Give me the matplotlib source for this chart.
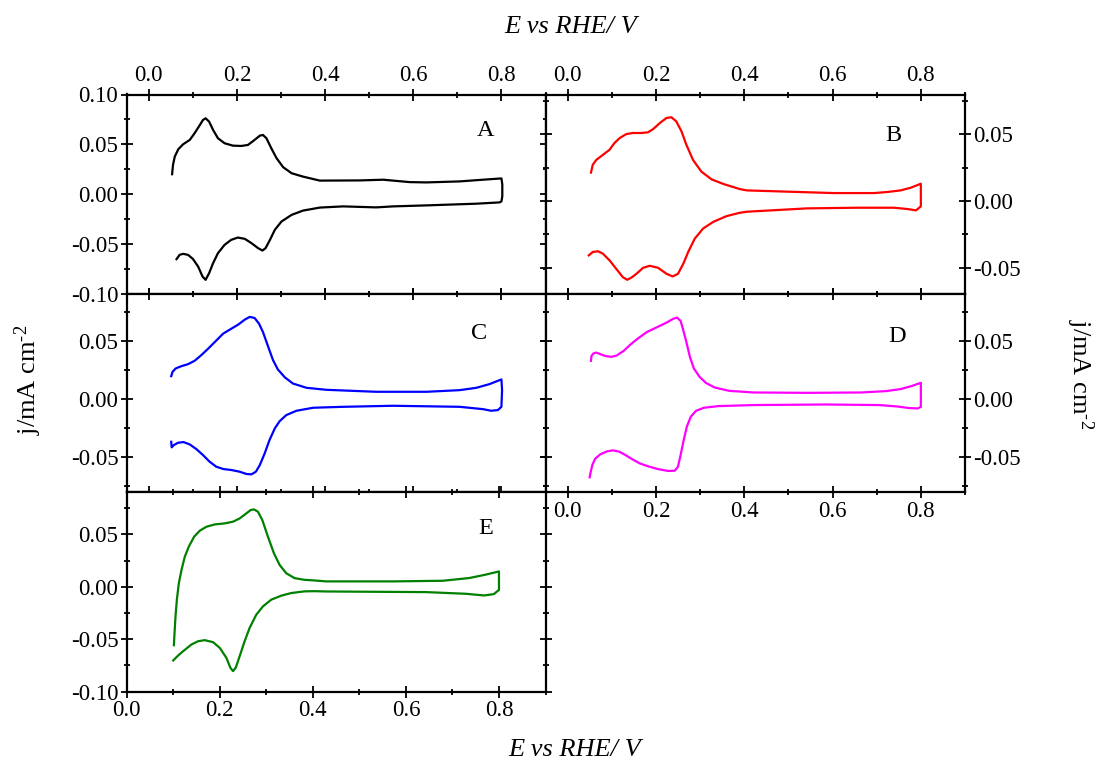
import matplotlib
matplotlib.use("Agg")
import matplotlib.pyplot as plt
from matplotlib.ticker import MultipleLocator, FormatStrFormatter

plt.rcParams['font.family'] = ['Liberation Serif', 'DejaVu Serif']
plt.rcParams['axes.unicode_minus'] = False
plt.rcParams['mathtext.fontset'] = 'custom'
plt.rcParams['mathtext.rm'] = 'Liberation Serif'
plt.rcParams['mathtext.it'] = 'Liberation Serif:italic'
plt.rcParams['mathtext.default'] = 'regular'

# ---------------- data (E vs RHE / V ; j / mA cm-2) ----------------
E_A = [0.053, 0.055, 0.059, 0.067, 0.078, 0.093, 0.104, 0.116, 0.123, 0.129, 0.137, 0.146,
       0.157, 0.172, 0.191, 0.210, 0.225, 0.240, 0.252, 0.259, 0.267, 0.278, 0.290, 0.305,
       0.324, 0.350, 0.388, 0.479, 0.532, 0.592, 0.630, 0.705, 0.758, 0.800, 0.802, 0.802, 0.800,
       0.796, 0.743, 0.630, 0.554, 0.516, 0.441, 0.388, 0.350, 0.324, 0.301, 0.286, 0.275,
       0.265, 0.258, 0.248, 0.233, 0.218, 0.202, 0.187, 0.172, 0.157, 0.146, 0.137, 0.129,
       0.122, 0.112, 0.100, 0.089, 0.078, 0.070, 0.063]
j_A = [0.0202, 0.0295, 0.0378, 0.0452, 0.0502, 0.0545, 0.0612, 0.0695, 0.0745, 0.0762, 0.0728, 0.0645,
       0.0562, 0.0512, 0.0488, 0.0485, 0.0495, 0.0545, 0.0588, 0.0595, 0.0562, 0.0462, 0.0362, 0.0272,
       0.0212, 0.0178, 0.0138, 0.014, 0.0147, 0.0123, 0.012, 0.013, 0.0147, 0.016, 0.010, -0.002, -0.007,
       -0.008, -0.0093, -0.011, -0.012, -0.013, -0.012, -0.0132, -0.0162, -0.0205, -0.0272, -0.0355, -0.0455,
       -0.0538, -0.0562, -0.0538, -0.0488, -0.0445, -0.0432, -0.0455, -0.0505, -0.0588, -0.0688, -0.0788, -0.0855,
       -0.0822, -0.0722, -0.0645, -0.0605, -0.0595, -0.0605, -0.0648]

E_B = [0.053, 0.057, 0.065, 0.080, 0.095, 0.106, 0.118, 0.133, 0.148, 0.167, 0.182, 0.194,
       0.209, 0.224, 0.235, 0.246, 0.258, 0.269, 0.284, 0.303, 0.326, 0.353, 0.390, 0.406,
       0.504, 0.603, 0.694, 0.724, 0.754, 0.777, 0.800, 0.800,
       0.789, 0.770, 0.739, 0.656, 0.542, 0.406, 0.390, 0.360, 0.330, 0.307, 0.288, 0.273,
       0.262, 0.250, 0.238, 0.224, 0.205, 0.186, 0.171, 0.156, 0.144, 0.135, 0.125, 0.110,
       0.095, 0.080, 0.069, 0.057, 0.048]
j_B = [0.0214, 0.0272, 0.0309, 0.0347, 0.0385, 0.0435, 0.0473, 0.0503, 0.0511, 0.0511, 0.0516, 0.0541,
       0.0586, 0.0624, 0.0629, 0.0599, 0.0523, 0.0423, 0.0309, 0.0221, 0.0163, 0.0128, 0.0090, 0.0080,
       0.0070, 0.0060, 0.0060, 0.0068, 0.0080, 0.0100, 0.0130, -0.004,
       -0.007, -0.006, -0.005, -0.005, -0.0055, -0.0080, -0.0088, -0.0113, -0.0156, -0.0206, -0.0282, -0.0383,
       -0.0471, -0.0546, -0.0566, -0.0546, -0.0501, -0.0486, -0.0501, -0.0546, -0.0576, -0.0591, -0.0571, -0.0508,
       -0.0445, -0.0395, -0.0377, -0.0382, -0.0408]

E_C = [0.051, 0.054, 0.061, 0.074, 0.089, 0.104, 0.119, 0.135, 0.150, 0.169, 0.184, 0.203,
       0.218, 0.229, 0.240, 0.250, 0.259, 0.271, 0.282, 0.293, 0.309, 0.327, 0.358, 0.403,
       0.516, 0.630, 0.705, 0.743, 0.773, 0.800, 0.8015, 0.800,
       0.792, 0.777, 0.758, 0.705, 0.554, 0.441, 0.373, 0.335, 0.312, 0.297, 0.286, 0.274,
       0.263, 0.252, 0.243, 0.233, 0.222, 0.206, 0.188, 0.169, 0.153, 0.138, 0.123, 0.108,
       0.093, 0.079, 0.067, 0.057, 0.052, 0.051]
j_C = [0.0197, 0.0234, 0.0263, 0.0283, 0.0300, 0.0329, 0.0377, 0.0434, 0.0491, 0.0563, 0.0597, 0.0640,
       0.0683, 0.0706, 0.0697, 0.0649, 0.0577, 0.0449, 0.0334, 0.0254, 0.0186, 0.0134, 0.0097, 0.0080,
       0.0063, 0.0063, 0.0077, 0.0097, 0.0129, 0.0169, 0.0077, -0.0066,
       -0.0094, -0.0100, -0.0086, -0.0066, -0.0057, -0.0066, -0.0074, -0.0100, -0.0137, -0.0189, -0.0251, -0.0351,
       -0.0466, -0.0566, -0.0623, -0.0646, -0.0643, -0.0623, -0.0609, -0.0600, -0.0580, -0.0537, -0.0480, -0.0429,
       -0.0389, -0.0369, -0.0374, -0.0394, -0.0414, -0.0366]

E_D = [0.053, 0.054, 0.058, 0.065, 0.074, 0.087, 0.099, 0.111, 0.127, 0.143, 0.159, 0.180,
       0.204, 0.224, 0.240, 0.248, 0.256, 0.262, 0.269, 0.277, 0.286, 0.299, 0.313, 0.333,
       0.366, 0.422, 0.544, 0.665, 0.722, 0.754, 0.778, 0.800, 0.800,
       0.793, 0.774, 0.746, 0.706, 0.584, 0.422, 0.341, 0.309, 0.291, 0.279, 0.270, 0.263,
       0.256, 0.250, 0.243, 0.228, 0.204, 0.180, 0.163, 0.147, 0.131, 0.117, 0.103, 0.089,
       0.074, 0.062, 0.056, 0.052, 0.050]
j_D = [0.0329, 0.0369, 0.0391, 0.0400, 0.0386, 0.0369, 0.0363, 0.0374, 0.0414, 0.0471, 0.0520, 0.0577,
       0.0620, 0.0657, 0.0691, 0.0700, 0.0671, 0.0591, 0.0491, 0.0363, 0.0263, 0.0191, 0.0140, 0.0100,
       0.0071, 0.0057, 0.0054, 0.0057, 0.0069, 0.0086, 0.0111, 0.0140, -0.0066,
       -0.0080, -0.0077, -0.0063, -0.0051, -0.0046, -0.0051, -0.0060, -0.0074, -0.0100, -0.0151, -0.0237, -0.0351,
       -0.0480, -0.0580, -0.0614, -0.0617, -0.0600, -0.0574, -0.0551, -0.0517, -0.0480, -0.0451, -0.0440, -0.0449,
       -0.0474, -0.0514, -0.0566, -0.0631, -0.0671]

E_E = [0.1014, 0.1028, 0.1049, 0.1078, 0.1121, 0.1178, 0.1249, 0.1335, 0.1449, 0.1570, 0.1714, 0.1892,
       0.2107, 0.2285, 0.2428, 0.2571, 0.2664, 0.2735, 0.2821, 0.2914, 0.3035, 0.3164, 0.3285, 0.3428,
       0.3607, 0.3821, 0.4035, 0.429, 0.571, 0.679, 0.736, 0.771, 0.800, 0.800,
       0.789, 0.768, 0.729, 0.643, 0.429, 0.4035, 0.3821, 0.3535, 0.3321, 0.3107, 0.2928, 0.2785,
       0.2642, 0.2535, 0.2428, 0.2343, 0.2285, 0.2228, 0.2142, 0.1999, 0.1856, 0.1678, 0.1535, 0.1392,
       0.1213, 0.1106, 0.1000]
j_E = [-0.0557, -0.0440, -0.0282, -0.0123, 0.0035, 0.0161, 0.0287, 0.0383, 0.0477, 0.0534, 0.0572, 0.0594,
       0.0604, 0.0620, 0.0651, 0.0699, 0.0731, 0.0737, 0.0715, 0.0636, 0.0477, 0.0319, 0.0209, 0.0129,
       0.0082, 0.0066, 0.0060, 0.0051, 0.0051, 0.0057, 0.0083, 0.0115, 0.0146, -0.003,
       -0.007, -0.0083, -0.0067, -0.0051, -0.0045, -0.0042, -0.0044, -0.0060, -0.0085, -0.0123, -0.0187, -0.0266,
       -0.0392, -0.0518, -0.0661, -0.0772, -0.0804, -0.0772, -0.0677, -0.0582, -0.0528, -0.0509, -0.0519, -0.0550,
       -0.0614, -0.0655, -0.0702]

labels = ['A', 'B', 'C', 'D', 'E']
colors = ['black', '#ff0000', '#0000ff', '#ff00ff', '#008000']
xdata = [E_A, E_B, E_C, E_D, E_E]
ydata = [j_A, j_B, j_C, j_D, j_E]
ylims = [(-0.10, 0.10), (-0.07, 0.08), (-0.08, 0.09), (-0.08, 0.09), (-0.10, 0.09)]
xlims = [(-0.05, 0.9), (-0.05, 0.9), (-0.05, 0.9), (-0.05, 0.9), (0.0, 0.9)]
xticks = [0.0, 0.2, 0.4, 0.6, 0.8]

# ---------------- layout ----------------
W, H = 1110, 767
fig = plt.figure(figsize=(W / 100, H / 100), dpi=100)
cols = [(126.7, 545.5), (545.5, 965.0)]
rows = [(94.5, 294.3), (294.3, 492.3), (492.3, 691.7)]
cells = [(0, 0), (0, 1), (1, 0), (1, 1), (2, 0)]
letter_pos = [(0.856, 0.822), (0.828, 0.797), (0.841, 0.800), (0.838, 0.786), (0.858, 0.816)]

# label config: (left, right, top, bottom)
lab_cfg = [(True, False, True, False),
           (False, True, True, False),
           (True, False, False, False),
           (False, True, False, True),
           (True, False, False, True)]

FS = 16.5
for i in range(5):
    r, c = cells[i]
    x0, x1 = cols[c]
    y0, y1 = rows[r]
    ax = fig.add_axes([x0 / W, 1 - y1 / H, (x1 - x0) / W, (y1 - y0) / H])
    ax.plot(xdata[i], ydata[i], color=colors[i], lw=1.6, solid_joinstyle='round')
    ax.set_xlim(*xlims[i])
    ax.set_ylim(*ylims[i])
    ax.set_xticks(xticks)
    ax.xaxis.set_minor_locator(MultipleLocator(0.1))
    ax.yaxis.set_major_locator(MultipleLocator(0.05))
    ax.yaxis.set_minor_locator(MultipleLocator(0.025))
    ax.xaxis.set_major_formatter(FormatStrFormatter('%.1f'))
    ax.yaxis.set_major_formatter(FormatStrFormatter('%.2f'))
    L, R, T, B = lab_cfg[i]
    ax.tick_params(which='both', direction='inout', top=True, bottom=True, left=True, right=True,
                   labelleft=L, labelright=R, labeltop=T, labelbottom=B,
                   labelsize=FS, width=1.3, pad=1.5)
    ax.tick_params(which='major', length=9)
    ax.tick_params(which='minor', length=5)
    for s in ax.spines.values():
        s.set_linewidth(1.6)
    ax.text(letter_pos[i][0], letter_pos[i][1], labels[i], transform=ax.transAxes, fontsize=17.5,
            ha='center', va='center')

fig.text(571 / W, 1 - 27 / H, 'E vs RHE/ V', style='italic', fontsize=19, ha='center', va='center')
fig.text(575 / W, 1 - 750 / H, 'E vs RHE/ V', style='italic', fontsize=19, ha='center', va='center')
fig.text(28 / W, 1 - 380 / H, r'j/mA cm$^{\text{-}2}$', rotation=90, fontsize=19, ha='center', va='center')
fig.text(1080 / W, 1 - 374 / H, r'j/mA cm$^{\text{-}2}$', rotation=270, fontsize=19, ha='center', va='center')

fig.savefig('out.png', dpi=100)
